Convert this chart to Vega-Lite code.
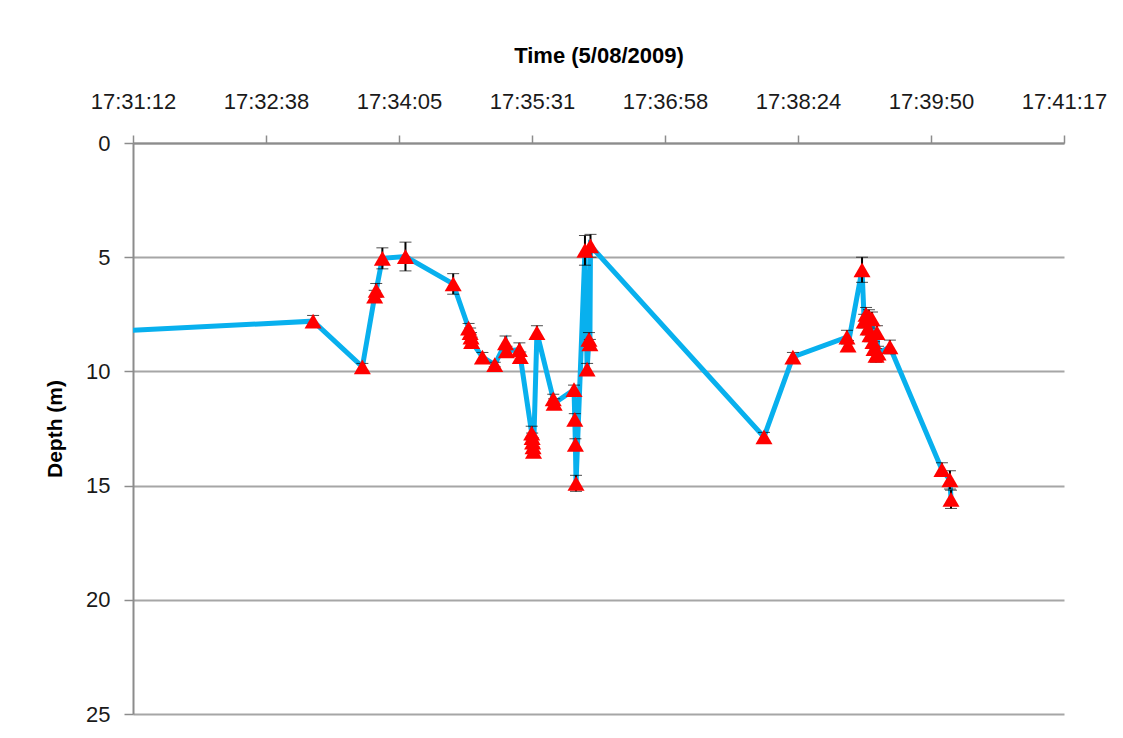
{
  "$schema": "https://vega.github.io/schema/vega-lite/v6.json",
  "width": 931,
  "height": 571,
  "autosize": {"type": "none"},
  "padding": {"left": 133, "top": 143, "right": 59, "bottom": 24},
  "background": "white",
  "config": {
    "view": {"stroke": null},
    "font": "Liberation Sans",
    "axis": {"labelFont": "Liberation Sans", "titleFont": "Liberation Sans", "labelColor": "#1a1a1a", "titleColor": "#000000"}
  },
  "data": {
    "values": [
      {"time": "2009-08-05T17:30:07.000Z", "depth": 8.42, "err": 0},
      {"time": "2009-08-05T17:33:09.000Z", "depth": 7.8, "err": 0.25},
      {"time": "2009-08-05T17:33:41.000Z", "depth": 9.8, "err": 0.15},
      {"time": "2009-08-05T17:33:49.000Z", "depth": 6.7, "err": 0.25},
      {"time": "2009-08-05T17:33:50.000Z", "depth": 6.45, "err": 0.3},
      {"time": "2009-08-05T17:33:54.000Z", "depth": 5.05, "err": 0.46},
      {"time": "2009-08-05T17:34:09.000Z", "depth": 4.97, "err": 0.63},
      {"time": "2009-08-05T17:34:40.000Z", "depth": 6.17, "err": 0.45},
      {"time": "2009-08-05T17:34:50.000Z", "depth": 8.1, "err": 0.2},
      {"time": "2009-08-05T17:34:51.000Z", "depth": 8.3, "err": 0.2},
      {"time": "2009-08-05T17:34:51.600Z", "depth": 8.5, "err": 0.2},
      {"time": "2009-08-05T17:34:52.000Z", "depth": 8.7, "err": 0.2},
      {"time": "2009-08-05T17:34:59.000Z", "depth": 9.37, "err": 0.2},
      {"time": "2009-08-05T17:35:07.000Z", "depth": 9.7, "err": 0.1},
      {"time": "2009-08-05T17:35:14.000Z", "depth": 8.75, "err": 0.3},
      {"time": "2009-08-05T17:35:14.600Z", "depth": 9.1, "err": 0.2},
      {"time": "2009-08-05T17:35:23.000Z", "depth": 9.05, "err": 0.3},
      {"time": "2009-08-05T17:35:23.600Z", "depth": 9.35, "err": 0.2},
      {"time": "2009-08-05T17:35:31.000Z", "depth": 12.7, "err": 0.3},
      {"time": "2009-08-05T17:35:31.300Z", "depth": 12.9, "err": 0.2},
      {"time": "2009-08-05T17:35:31.600Z", "depth": 13.1, "err": 0.2},
      {"time": "2009-08-05T17:35:31.900Z", "depth": 13.3, "err": 0.2},
      {"time": "2009-08-05T17:35:32.200Z", "depth": 13.5, "err": 0.2},
      {"time": "2009-08-05T17:35:34.400Z", "depth": 8.3, "err": 0.3},
      {"time": "2009-08-05T17:35:45.000Z", "depth": 11.2, "err": 0.2},
      {"time": "2009-08-05T17:35:45.600Z", "depth": 11.4, "err": 0.2},
      {"time": "2009-08-05T17:35:58.500Z", "depth": 10.8, "err": 0.2},
      {"time": "2009-08-05T17:35:59.000Z", "depth": 12.1, "err": 0.25},
      {"time": "2009-08-05T17:35:59.400Z", "depth": 13.2, "err": 0.25},
      {"time": "2009-08-05T17:35:59.800Z", "depth": 14.9, "err": 0.35},
      {"time": "2009-08-05T17:36:05.600Z", "depth": 4.7, "err": 0.65},
      {"time": "2009-08-05T17:36:07.000Z", "depth": 9.9, "err": 0.25},
      {"time": "2009-08-05T17:36:08.200Z", "depth": 8.6, "err": 0.3},
      {"time": "2009-08-05T17:36:08.800Z", "depth": 8.8, "err": 0.2},
      {"time": "2009-08-05T17:36:09.200Z", "depth": 4.5, "err": 0.5},
      {"time": "2009-08-05T17:38:01.900Z", "depth": 12.87, "err": 0.2},
      {"time": "2009-08-05T17:38:20.700Z", "depth": 9.37, "err": 0.2},
      {"time": "2009-08-05T17:38:55.800Z", "depth": 8.5, "err": 0.3},
      {"time": "2009-08-05T17:38:56.500Z", "depth": 8.85, "err": 0.2},
      {"time": "2009-08-05T17:39:05.600Z", "depth": 5.55, "err": 0.55},
      {"time": "2009-08-05T17:39:07.000Z", "depth": 7.8, "err": 0.3},
      {"time": "2009-08-05T17:39:08.200Z", "depth": 7.5, "err": 0.3},
      {"time": "2009-08-05T17:39:09.500Z", "depth": 8.1, "err": 0.3},
      {"time": "2009-08-05T17:39:10.100Z", "depth": 7.6, "err": 0.3},
      {"time": "2009-08-05T17:39:10.800Z", "depth": 8.4, "err": 0.3},
      {"time": "2009-08-05T17:39:12.100Z", "depth": 7.7, "err": 0.3},
      {"time": "2009-08-05T17:39:12.700Z", "depth": 8.7, "err": 0.3},
      {"time": "2009-08-05T17:39:13.400Z", "depth": 9.0, "err": 0.3},
      {"time": "2009-08-05T17:39:14.700Z", "depth": 9.3, "err": 0.3},
      {"time": "2009-08-05T17:39:15.300Z", "depth": 8.3, "err": 0.3},
      {"time": "2009-08-05T17:39:16.000Z", "depth": 9.2, "err": 0.3},
      {"time": "2009-08-05T17:39:23.700Z", "depth": 8.93, "err": 0.3},
      {"time": "2009-08-05T17:39:57.500Z", "depth": 14.3, "err": 0.3},
      {"time": "2009-08-05T17:40:02.700Z", "depth": 14.75, "err": 0.4},
      {"time": "2009-08-05T17:40:03.400Z", "depth": 15.6, "err": 0.4}
    ]
  },
  "encoding": {
    "x": {
      "field": "time",
      "type": "temporal",
      "scale": {
        "type": "utc",
        "domain": [
          {"year": 2009, "month": 8, "date": 5, "hours": 17, "minutes": 31, "seconds": 12, "utc": true},
          {"year": 2009, "month": 8, "date": 5, "hours": 17, "minutes": 41, "seconds": 16, "milliseconds": 800, "utc": true}
        ]
      },
      "axis": {
        "orient": "top",
        "title": "Time (5/08/2009)",
        "titleFontSize": 22,
        "titleFontWeight": "bold",
        "titlePadding": 23,
        "labelFontSize": 22,
        "labelPadding": 22,
        "labelFlush": false,
        "labelOverlap": false,
        "tickSize": 8,
        "tickWidth": 1.5,
        "tickColor": "#8c8c8c",
        "domainColor": "#8c8c8c",
        "domainWidth": 2,
        "grid": false,
        "values": [
          {"year": 2009, "month": 8, "date": 5, "hours": 17, "minutes": 31, "seconds": 12, "utc": true},
          {"year": 2009, "month": 8, "date": 5, "hours": 17, "minutes": 32, "seconds": 38, "milliseconds": 400, "utc": true},
          {"year": 2009, "month": 8, "date": 5, "hours": 17, "minutes": 34, "seconds": 4, "milliseconds": 800, "utc": true},
          {"year": 2009, "month": 8, "date": 5, "hours": 17, "minutes": 35, "seconds": 31, "milliseconds": 200, "utc": true},
          {"year": 2009, "month": 8, "date": 5, "hours": 17, "minutes": 36, "seconds": 57, "milliseconds": 600, "utc": true},
          {"year": 2009, "month": 8, "date": 5, "hours": 17, "minutes": 38, "seconds": 24, "utc": true},
          {"year": 2009, "month": 8, "date": 5, "hours": 17, "minutes": 39, "seconds": 50, "milliseconds": 400, "utc": true},
          {"year": 2009, "month": 8, "date": 5, "hours": 17, "minutes": 41, "seconds": 16, "milliseconds": 800, "utc": true}
        ],
        "labelExpr": "utcFormat(round(datum.value / 1000) * 1000, '%H:%M:%S')"
      }
    },
    "y": {
      "field": "depth",
      "type": "quantitative",
      "scale": {"domain": [0, 25], "reverse": true, "nice": false, "zero": false},
      "axis": {
        "title": "Depth (m)",
        "titleFontSize": 21,
        "titleFontWeight": "bold",
        "titlePadding": 20,
        "labelFontSize": 22,
        "labelPadding": 14,
        "values": [0, 5, 10, 15, 20, 25],
        "tickSize": 9,
        "tickWidth": 1.5,
        "tickColor": "#8c8c8c",
        "domainColor": "#8c8c8c",
        "domainWidth": 2,
        "grid": true,
        "gridColor": "#a6a6a6",
        "gridWidth": 2
      }
    }
  },
  "layer": [
    {
      "mark": {"type": "line", "color": "#08b0ee", "strokeWidth": 5, "clip": true}
    },
    {
      "mark": {
        "type": "errorbar",
        "clip": true,
        "ticks": {"size": 12, "color": "#000000", "strokeWidth": 3},
        "rule": {"color": "#000000", "strokeWidth": 2}
      },
      "encoding": {
        "yError": {"field": "err"}
      }
    },
    {
      "mark": {"type": "point", "shape": "triangle-up", "filled": true, "color": "#ff0000", "opacity": 1, "size": 290, "clip": true}
    }
  ]
}
